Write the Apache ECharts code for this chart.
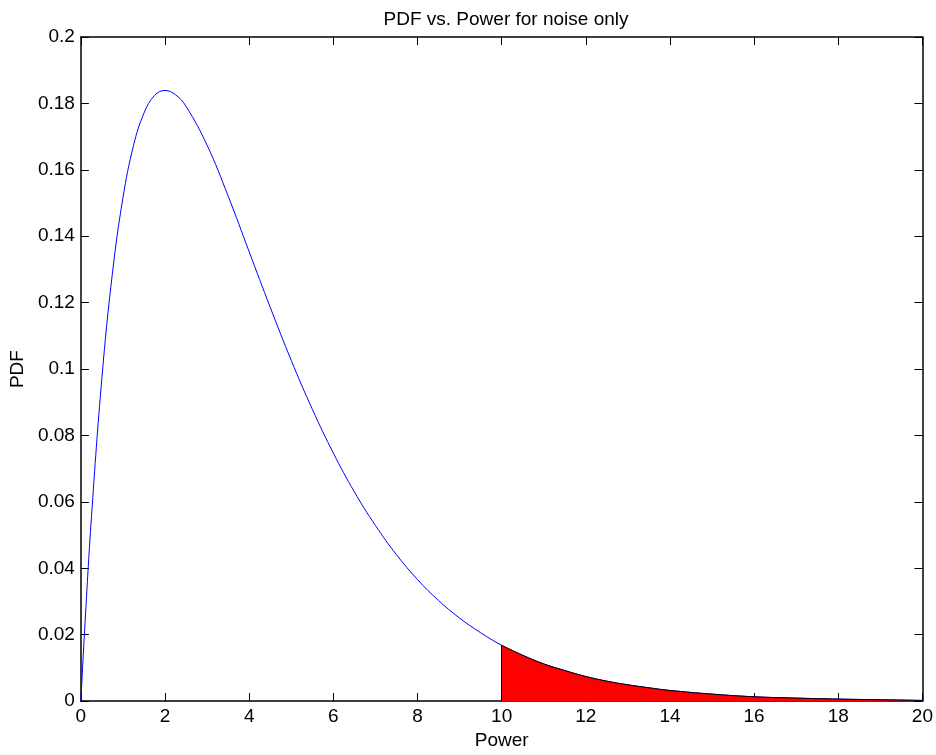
<!DOCTYPE html>
<html>
<head>
<meta charset="utf-8">
<script src="https://cdn.jsdelivr.net/npm/echarts@6/dist/echarts.min.js"></script>
<style>html,body{margin:0;padding:0;background:#fff}#c{width:936px;height:755px}</style>
</head>
<body>
<div id="c"></div>
<script>
// Data
const powerX = [0, 0.1, 0.25, 0.5, 0.75, 1, 1.25, 1.5, 1.75, 2, 2.25, 2.5, 3, 3.5, 4, 4.5, 5, 5.5, 6, 6.5, 7, 7.5, 8, 8.5, 9, 9.5, 10, 10.5, 11, 11.5, 12, 12.5, 13, 13.5, 14, 15, 16, 17, 18, 19, 20];
const pdfY = [0, 0.0238, 0.0552, 0.0974, 0.1289, 0.1516, 0.1673, 0.1771, 0.1824, 0.1839, 0.1826, 0.1791, 0.1674, 0.1521, 0.1353, 0.1186, 0.1026, 0.0879, 0.0747, 0.0630, 0.0529, 0.0441, 0.0366, 0.0303, 0.0250, 0.0206, 0.0168, 0.0138, 0.0112, 0.0092, 0.0074, 0.0060, 0.0049, 0.0040, 0.0032, 0.0021, 0.0013, 0.0009, 0.0006, 0.0004, 0.0002];
const threshold = 10;
const xTicks = [0, 2, 4, 6, 8, 10, 12, 14, 16, 18, 20];
const yTicks = [0, 0.02, 0.04, 0.06, 0.08, 0.1, 0.12, 0.14, 0.16, 0.18, 0.2];

const curve = powerX.map((x, i) => [x, pdfY[i]]);
const tail = curve.filter(p => p[0] >= threshold);
const thrIdx = powerX.indexOf(threshold);

const FONT = 'Liberation Sans, Arial, sans-serif';
const FS = 19;
const chart = echarts.init(document.getElementById('c'), null, {renderer: 'canvas'});
const tickStyle = {show: true, inside: true, length: 8, lineStyle: {color: '#000', width: 1}};
const lineStyle = {show: true, onZero: false, lineStyle: {color: '#000', width: 1.5}};
const baseX = {
  type: 'value', min: xTicks[0], max: xTicks[xTicks.length - 1], interval: 2,
  splitLine: {show: false}, axisLine: lineStyle, axisTick: tickStyle
};
const baseY = {
  type: 'value', min: yTicks[0], max: yTicks[yTicks.length - 1], interval: 0.02,
  splitLine: {show: false}, axisLine: lineStyle, axisTick: tickStyle
};
chart.setOption({
  animation: false,
  backgroundColor: '#fff',
  title: {
    text: 'PDF vs. Power for noise only', left: 501, top: 5, textAlign: 'center',
    textStyle: {fontFamily: FONT, fontSize: FS, fontWeight: 'normal', color: '#000'}
  },
  grid: {left: 77, top: 37, width: 848, height: 668, containLabel: false},
  xAxis: [
    Object.assign({}, baseX, {
      position: 'bottom', name: 'Power', nameLocation: 'middle', nameGap: 28,
      nameTextStyle: {fontFamily: FONT, fontSize: FS, color: '#000', verticalAlign: 'top'},
      axisLabel: {fontFamily: FONT, fontSize: FS, color: '#000', margin: 6}
    }),
    Object.assign({}, baseX, {position: 'top', axisLabel: {show: false}})
  ],
  yAxis: [
    Object.assign({}, baseY, {
      position: 'left', name: 'PDF', nameLocation: 'middle', nameGap: 46, nameRotate: 90,
      nameTextStyle: {fontFamily: FONT, fontSize: FS, color: '#000'},
      axisLabel: {fontFamily: FONT, fontSize: FS, color: '#000', margin: 6,
        formatter: v => String(+v.toFixed(2))}
    }),
    Object.assign({}, baseY, {position: 'right', axisLabel: {show: false}})
  ],
  series: [
    {
      type: 'line', data: curve, smooth: 0.4, showSymbol: false, symbol: 'none',
      lineStyle: {color: '#0000ff', width: 1}, z: 2
    },
    {
      type: 'line', data: tail, smooth: 0.4, showSymbol: false, symbol: 'none',
      lineStyle: {color: '#000', width: 1}, areaStyle: {color: '#ff0000', opacity: 1, origin: 'start'}, z: 3,
      markLine: {
        silent: true, symbol: 'none', label: {show: false},
        lineStyle: {color: '#000', width: 1, type: 'solid'},
        data: [[{coord: [threshold, 0]}, {coord: [threshold, pdfY[thrIdx]]}]]
      }
    }
  ]
});
</script>
</body>
</html>
